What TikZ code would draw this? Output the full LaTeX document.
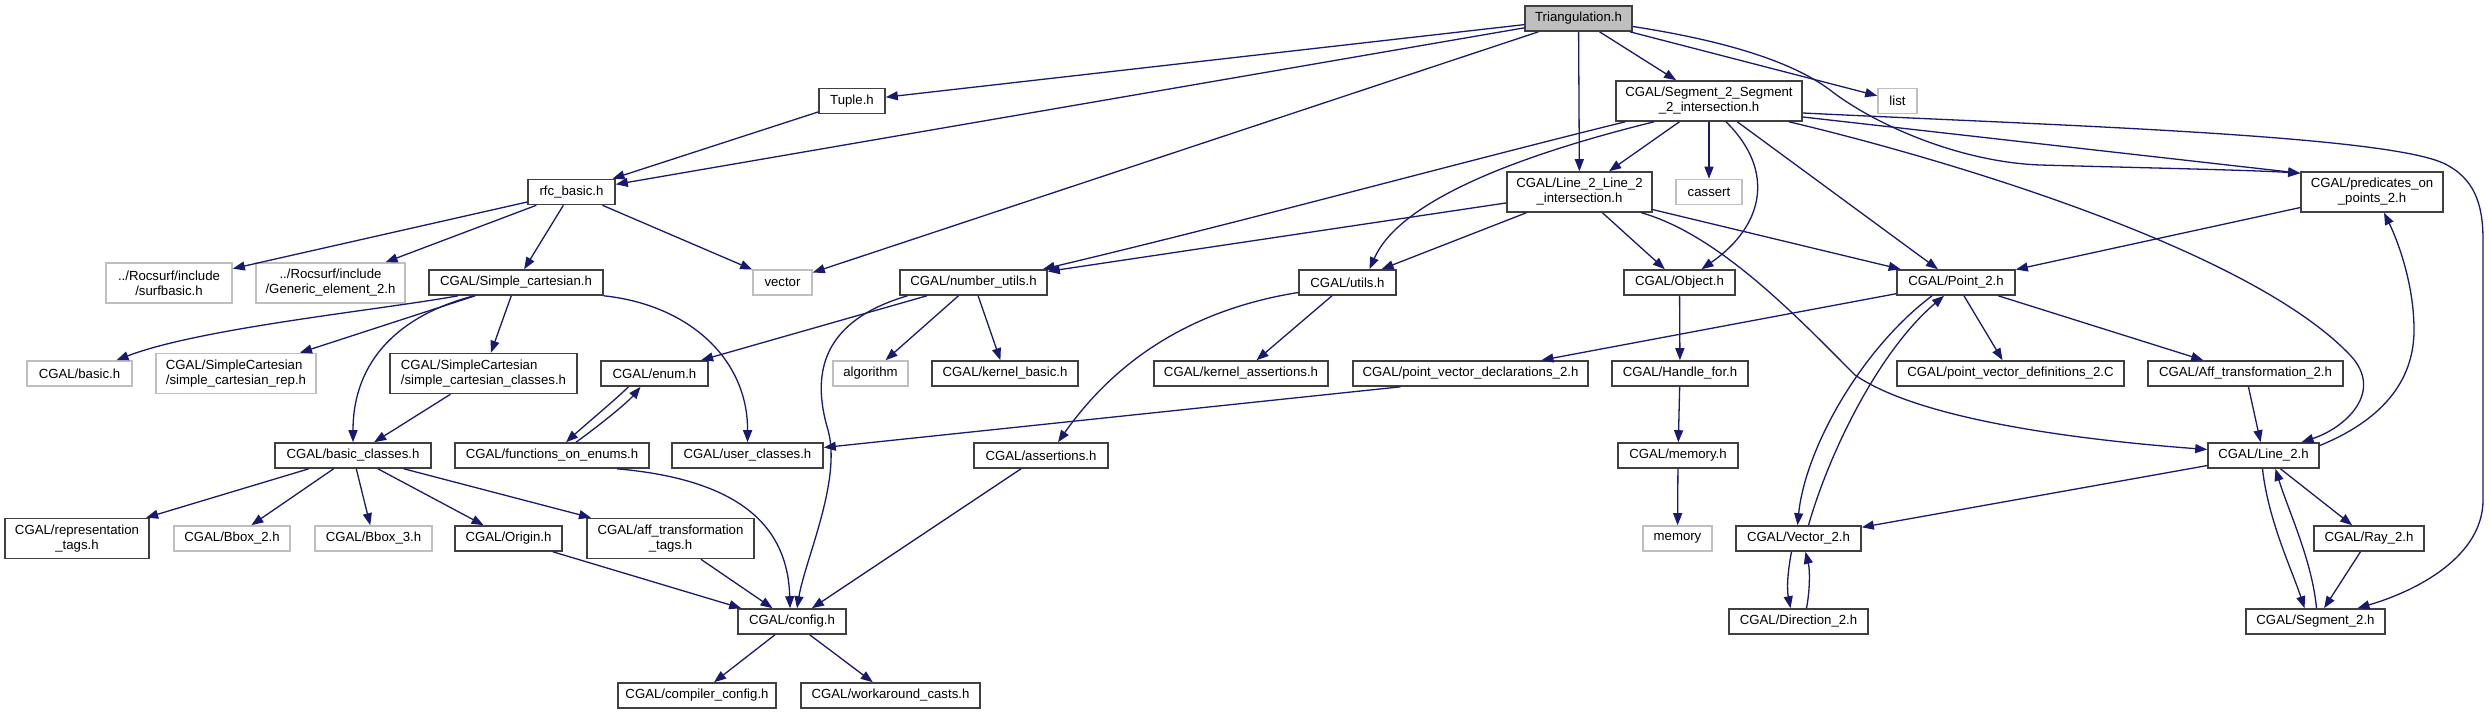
\documentclass[tikz,border=0pt]{standalone}
\usepackage{fontspec}
\setmainfont{Liberation Sans}
\usepackage{tikz}
\usetikzlibrary{arrows.meta}
\definecolor{dxblue}{RGB}{25,25,112}
\definecolor{dxdark}{RGB}{64,64,64}
\definecolor{dxlight}{RGB}{191,191,191}

\begin{document}
\begin{tikzpicture}[x=1pt, y=-1pt,
        hf/.style={draw=dxdark, line width=1.6pt, fill=white, inner sep=0pt, minimum height=25pt, align=center, font=\fontsize{13.2}{15}\selectfont},
        ext/.style={hf, draw=dxlight},
        two/.style={minimum height=40pt},
        arr/.style={-{Stealth[length=12pt, width=9pt, inset=0pt]}, line width=1.3pt, dxblue}]
        \fill[white] (0,0) rectangle (2490,715);
        \node[hf, fill=dxlight, minimum width=107pt] (tri) at (1578.5,18.5) {Triangulation.h};
        \node[hf, minimum width=66pt] (tuple) at (852,101) {Tuple.h};
        \node[hf, two, minimum width=186pt] (seg2seg) at (1709,101) {CGAL/Segment\_2\_Segment\\\_2\_intersection.h};
        \node[ext, minimum width=39pt] (list) at (1897.5,101) {list};
        \node[hf, minimum width=87pt] (rfc) at (571.5,192) {rfc\_basic.h};
        \node[hf, two, minimum width=145pt] (line2line) at (1579.5,192) {CGAL/Line\_2\_Line\_2\\\_intersection.h};
        \node[ext, minimum width=66pt] (cassert) at (1709,192) {cassert};
        \node[hf, two, minimum width=142pt] (pred) at (2372,192) {CGAL/predicates\_on\\\_points\_2.h};
        \node[ext, two, minimum width=126pt] (surfbasic) at (169,283) {../Rocsurf/include\\/surfbasic.h};
        \node[ext, two, minimum width=149pt] (generic) at (330.5,283) {../Rocsurf/include\\/Generic\_element\_2.h};
        \node[hf, minimum width=174pt] (simplecart) at (516,282.5) {CGAL/Simple\_cartesian.h};
        \node[ext, minimum width=59pt] (vector) at (782.5,282.5) {vector};
        \node[hf, minimum width=147pt] (numutils) at (973.5,282.5) {CGAL/number\_utils.h};
        \node[hf, minimum width=97pt] (utils) at (1347.5,282.5) {CGAL/utils.h};
        \node[hf, minimum width=111pt] (object) at (1679.5,282.5) {CGAL/Object.h};
        \node[hf, minimum width=118pt] (point2) at (1956,282.5) {CGAL/Point\_2.h};
        \node[ext, minimum width=105pt] (basic) at (79.5,373.5) {CGAL/basic.h};
        \node[ext, two, align=left, minimum width=160pt] (screp) at (236,373.5) {CGAL/SimpleCartesian\\/simple\_cartesian\_rep.h};
        \node[hf, two, align=left, minimum width=187pt] (scclasses) at (483.5,373.5) {CGAL/SimpleCartesian\\/simple\_cartesian\_classes.h};
        \node[hf, minimum width=107pt] (enum) at (654.5,373.5) {CGAL/enum.h};
        \node[ext, minimum width=75pt] (algorithm) at (870.5,373.5) {algorithm};
        \node[hf, minimum width=146pt] (kbasic) at (1005,373.5) {CGAL/kernel\_basic.h};
        \node[hf, minimum width=174pt] (kassert) at (1241,373.5) {CGAL/kernel\_assertions.h};
        \node[hf, minimum width=235pt] (pvdecl) at (1470.5,373.5) {CGAL/point\_vector\_declarations\_2.h};
        \node[hf, minimum width=136pt] (handle) at (1680,373.5) {CGAL/Handle\_for.h};
        \node[hf, minimum width=227pt] (pvdef) at (2010.5,373.5) {CGAL/point\_vector\_definitions\_2.C};
        \node[hf, minimum width=195pt] (afftrans) at (2245.5,373.5) {CGAL/Aff\_transformation\_2.h};
        \node[hf, minimum width=156pt] (basiccl) at (353,455.5) {CGAL/basic\_classes.h};
        \node[hf, minimum width=194pt] (funcenums) at (552,455.5) {CGAL/functions\_on\_enums.h};
        \node[hf, minimum width=151pt] (userclasses) at (747.5,455.5) {CGAL/user\_classes.h};
        \node[hf, minimum width=134pt] (assertions) at (1041,455.5) {CGAL/assertions.h};
        \node[hf, minimum width=120pt] (memoryh) at (1678,455.5) {CGAL/memory.h};
        \node[hf, minimum width=111pt] (line2) at (2263.5,455.5) {CGAL/Line\_2.h};
        \node[hf, two, minimum width=144pt] (reptags) at (77,538.5) {CGAL/representation\\\_tags.h};
        \node[ext, minimum width=116pt] (bbox2) at (232,538.5) {CGAL/Bbox\_2.h};
        \node[ext, minimum width=117pt] (bbox3) at (373.5,538.5) {CGAL/Bbox\_3.h};
        \node[hf, minimum width=107pt] (origin) at (508.5,538.5) {CGAL/Origin.h};
        \node[hf, two, minimum width=167pt] (afftags) at (670.5,538.5) {CGAL/aff\_transformation\\\_tags.h};
        \node[ext, minimum width=69pt] (memory) at (1677.5,538.5) {memory};
        \node[hf, minimum width=125pt] (vector2) at (1798.5,538.5) {CGAL/Vector\_2.h};
        \node[hf, minimum width=110pt] (ray2) at (2369,538.5) {CGAL/Ray\_2.h};
        \node[hf, minimum width=108pt] (config) at (792,621.5) {CGAL/config.h};
        \node[hf, minimum width=139pt] (direction2) at (1798.5,621.5) {CGAL/Direction\_2.h};
        \node[hf, minimum width=139pt] (segment2) at (2315.5,621.5) {CGAL/Segment\_2.h};
        \node[hf, minimum width=158pt] (compconfig) at (697,695.5) {CGAL/compiler\_config.h};
        \node[hf, minimum width=179pt] (workaround) at (890.5,695.5) {CGAL/workaround\_casts.h};
        % includes of the root file
        \draw[arr] (tri) -- (tuple);
        \draw[arr] (tri) -- (rfc);
        \draw[arr] (tri) -- (vector);
        \draw[arr] (tri) -- (line2line);
        \draw[arr] (tri) -- (seg2seg);
        \draw[arr] (tri) -- (list);
        \draw[arr] ([yshift=-8pt]tri.east) .. controls (1720,40) and (1790,60) .. (1830,90) .. controls (1875,125) and (1960,162) .. (2040,165) .. controls (2150,168) and (2250,170) .. ([yshift=-2pt]pred.north west);
        \draw[arr] (tuple) -- (rfc);
        % Segment_2_Segment_2_intersection.h
        \draw[arr] (seg2seg) -- (line2line);
        \draw[arr] (seg2seg) -- (cassert);
        \draw[arr] ([xshift=17pt]seg2seg.south) .. controls (1775,170) and (1765,225) .. ([xshift=22pt]object.north);
        \draw[arr] (seg2seg) -- (point2);
        \draw[arr] ([xshift=10pt]seg2seg.south west) .. controls (1450,165) and (1250,220) .. ([xshift=-5pt]numutils.north east);
        \draw[arr] ([xshift=-55pt]seg2seg.south) .. controls (1520,155) and (1400,200) .. ([xshift=22pt]utils.north);
        \draw[arr] ([yshift=-16pt]seg2seg.east) -- ([yshift=-2pt]pred.north west);
        \draw[arr] ([xshift=80pt]seg2seg.south) .. controls (1950,160) and (2250,250) .. (2350,355) .. controls (2385,392) and (2345,428) .. ([xshift=38pt]line2.north);
        \draw[arr] ([yshift=-12pt]seg2seg.east) .. controls (2050,125) and (2380,135) .. (2443,163) .. controls (2475,178) and (2483,205) .. (2483,240) -- (2483,500) .. controls (2483,555) and (2420,590) .. ([xshift=42pt]segment2.north);
        % Line_2_Line_2_intersection.h
        \draw[arr] (line2line) -- (numutils);
        \draw[arr] (line2line) -- (utils);
        \draw[arr] (line2line) -- (object);
        \draw[arr] (line2line) -- (point2);
        \draw[arr] ([xshift=62pt]line2line.south) .. controls (1720,235) and (1800,320) .. (1855,375) .. controls (1920,420) and (2080,440) .. ([yshift=6pt]line2.west);
        \draw[arr] (pred) -- (point2);
        % rfc_basic.h and Simple_cartesian.h
        \draw[arr] (rfc) -- (surfbasic);
        \draw[arr] (rfc) -- (generic);
        \draw[arr] (rfc) -- (simplecart);
        \draw[arr] (rfc) -- (vector);
        \draw[arr] ([xshift=-58pt]simplecart.south) .. controls (380,310) and (200,328) .. ([xshift=37pt]basic.north);
        \draw[arr] (simplecart) -- (screp);
        \draw[arr] (simplecart) -- (scclasses);
        \draw[arr] ([xshift=-42pt]simplecart.south) .. controls (400,315) and (353,360) .. (basiccl.north);
        \draw[arr] (simplecart.south east) .. controls (690,305) and (748,360) .. (userclasses.north);
        \draw[arr] (scclasses) -- (basiccl);
        % number_utils.h and utils.h
        \draw[arr] (numutils) -- (enum);
        \draw[arr] ([xshift=-66pt]numutils.south) .. controls (825,320) and (810,370) .. (828,430) .. controls (842,480) and (805,560) .. ([xshift=5pt]config.north);
        \draw[arr] (numutils) -- (algorithm);
        \draw[arr] (numutils) -- (kbasic);
        \draw[arr] (utils) -- (kassert);
        \draw[arr] ([yshift=-10pt]utils.west) .. controls (1220,305) and (1130,340) .. ([xshift=17pt]assertions.north);
        \draw[arr] (object) -- (handle);
        \draw[arr] (handle) -- (memoryh);
        \draw[arr] (memoryh) -- (memory);
        % Point_2.h
        \draw[arr] (point2) -- (pvdecl);
        \draw[arr] (point2) -- (pvdef);
        \draw[arr] (point2) -- (afftrans);
        \draw[arr] ([xshift=-24pt]point2.south) .. controls (1860,350) and (1805,450) .. ([xshift=-1pt]vector2.north);
        \draw[arr] ([xshift=10pt]vector2.north) .. controls (1830,450) and (1880,350) .. ([xshift=-12pt]point2.south);
        \draw[arr] ([xshift=-70pt]pvdecl.south) -- ([yshift=8pt]userclasses.east);
        % enum.h and basic_classes.h
        \draw[arr] ([xshift=-26pt]enum.south) .. controls (615,400) and (585,425) .. ([xshift=14pt]funcenums.north);
        \draw[arr] ([xshift=24pt]funcenums.north) .. controls (600,425) and (628,402) .. ([xshift=-14pt]enum.south);
        \draw[arr] ([xshift=65pt]funcenums.south) .. controls (745,480) and (788,530) .. ([xshift=-2pt]config.north);
        \draw[arr] (basiccl) -- (reptags);
        \draw[arr] (basiccl) -- (bbox2);
        \draw[arr] (basiccl) -- (bbox3);
        \draw[arr] (basiccl) -- (origin);
        \draw[arr] (basiccl) -- (afftags);
        \draw[arr] (origin) -- ([xshift=4pt]config.north west);
        \draw[arr] (afftags) -- (config);
        \draw[arr] (assertions) -- (config);
        \draw[arr] (config) -- (compconfig);
        \draw[arr] (config) -- (workaround);
        % Line_2.h
        \draw[arr] (afftrans) -- (line2);
        \draw[arr] (line2) -- (vector2);
        \draw[arr] (line2) -- (ray2);
        \draw[arr] ([xshift=-1pt]line2.south) .. controls (2268,520) and (2292,570) .. ([xshift=-11pt]segment2.north);
        \draw[arr] ([xshift=1pt]segment2.north) .. controls (2312,560) and (2288,510) .. ([xshift=12pt]line2.south);
        \draw[arr] (ray2) -- (segment2);
        \draw[arr] ([yshift=10pt]line2.east) .. controls (2370,425) and (2414,390) .. (2414,330) .. controls (2414,280) and (2395,235) .. ([xshift=12pt]pred.south);
        \draw[arr] ([xshift=-7pt]vector2.south) .. controls (1787,575) and (1787,590) .. ([xshift=-8pt]direction2.north);
        \draw[arr] ([xshift=8pt]direction2.north) .. controls (1810,590) and (1810,570) .. ([xshift=7pt]vector2.south);
      \end{tikzpicture}
\end{document}
